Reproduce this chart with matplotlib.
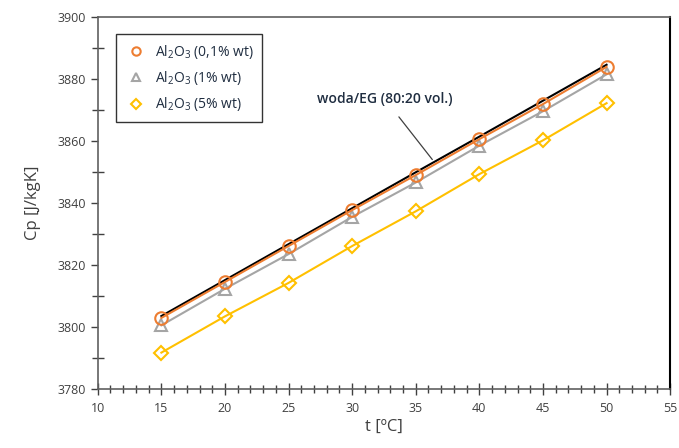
import matplotlib
matplotlib.use("Agg")
import matplotlib.pyplot as plt
from matplotlib.lines import Line2D
from matplotlib.ticker import MultipleLocator

plt.rcParams["font.family"] = ["Open Sans", "DejaVu Sans"]
plt.rcParams["mathtext.default"] = "regular"

# data
t = [15, 20, 25, 30, 35, 40, 45, 50]
cp_base = [3803.5, 3815.1, 3826.7, 3838.3, 3849.9, 3861.4, 3873.0, 3884.6]
cp_01 = [3802.9, 3814.5, 3826.1, 3837.7, 3849.0, 3860.6, 3871.9, 3883.9]
cp_1 = [3800.5, 3812.3, 3823.5, 3835.5, 3846.6, 3858.5, 3869.6, 3881.5]
cp_5 = [3791.7, 3803.4, 3814.2, 3826.1, 3837.3, 3849.3, 3860.2, 3872.2]

labels = [r"Al$_2$O$_3$ (0,1% wt)", r"Al$_2$O$_3$ (1% wt)", r"Al$_2$O$_3$ (5% wt)"]
base_label = "woda/EG (80:20 vol.)"

c_orange = "#ED7D31"
c_gray = "#A5A5A5"
c_yellow = "#FFC000"
txt = "#404040"

fig = plt.figure(figsize=(6.79, 4.48), dpi=100)
ax = fig.add_axes([0.144, 0.132, 0.843, 0.830])

ax.plot(t, cp_5, color=c_yellow, lw=1.5, marker="D", ms=7, mfc="none",
        mec=c_yellow, mew=1.5, zorder=3)
ax.plot(t, cp_1, color=c_gray, lw=1.5, marker="^", ms=9, mfc="none",
        mec=c_gray, mew=1.5, zorder=3)
ax.plot(t, cp_base, color="black", lw=1.5, zorder=4)
ax.plot(t, cp_01, color=c_orange, lw=1.5, marker="o", ms=9, mfc="none",
        mec=c_orange, mew=1.5, zorder=5)

ax.annotate(base_label, xy=(36.3, 3854.0), xytext=(32.6, 3873.4),
            ha="center", va="center", fontsize=10, color="#1F2D40",
            fontweight="semibold",
            arrowprops=dict(arrowstyle="-", color="#404040", lw=0.9,
                            shrinkA=7, shrinkB=0))

ax.set_xlim(10, 55)
ax.set_ylim(3780, 3900)
ax.xaxis.set_major_locator(MultipleLocator(5))
ax.xaxis.set_minor_locator(MultipleLocator(1))
ax.yaxis.set_major_locator(MultipleLocator(20))
ax.yaxis.set_minor_locator(MultipleLocator(10))
ax.tick_params(axis="x", which="major", direction="inout", length=9,
               width=1, color="#404040", labelsize=9, labelcolor=txt, pad=5)
ax.tick_params(axis="x", which="minor", direction="inout", length=6,
               width=1, color="#404040")
ax.tick_params(axis="y", which="major", direction="out", length=5,
               width=1, color="#404040", labelsize=9, labelcolor=txt)
ax.tick_params(axis="y", which="minor", direction="inout", length=8,
               width=1, color="#404040")

for side in ["left", "bottom", "top"]:
    ax.spines[side].set_color("#606060")
    ax.spines[side].set_linewidth(1.2)
ax.spines["right"].set_color("black")
ax.spines["right"].set_linewidth(1.5)

ax.set_xlabel("t [ºC]", fontsize=12, color=txt, labelpad=3)
ax.set_ylabel("Cp [J/kgK]", fontsize=12, color=txt, labelpad=12)

handles = [
    Line2D([], [], ls="none", marker="o", ms=6, mfc="none", mec=c_orange, mew=1.5),
    Line2D([], [], ls="none", marker="^", ms=6, mfc="none", mec=c_gray, mew=1.5),
    Line2D([], [], ls="none", marker="D", ms=5, mfc="none", mec=c_yellow, mew=1.5),
]
leg = ax.legend(handles, labels, loc="upper left", bbox_to_anchor=(0.02, 0.972),
                fontsize=10, frameon=True, fancybox=False, handlelength=1.6,
                handletextpad=0.6, labelspacing=0.6, borderpad=0.6,
                labelcolor="#1F2D40")
leg.get_frame().set_edgecolor("black")
leg.get_frame().set_linewidth(1.0)

fig.savefig("out.png", dpi=100)
